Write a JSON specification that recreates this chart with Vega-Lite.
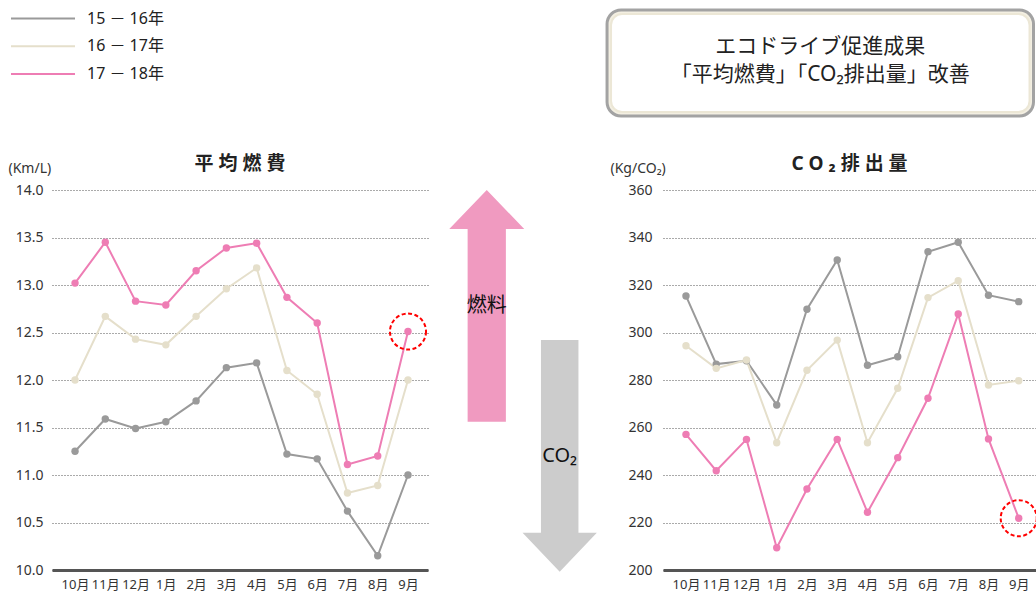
{
  "$schema": "https://vega.github.io/schema/vega-lite/v6.json",
  "padding": {"left": 8, "top": 8, "right": 0, "bottom": 0},
  "background": "white",
  "columns": 3,
  "align": "none",
  "bounds": "flush",
  "spacing": {"row": 74, "column": 20},
  "data": {"values": [
    {"month": "10月", "series": "15 － 16年", "fuel": 11.25, "co2": 315.4},
    {"month": "11月", "series": "15 － 16年", "fuel": 11.59, "co2": 286.7},
    {"month": "12月", "series": "15 － 16年", "fuel": 11.49, "co2": 288.1},
    {"month": "1月", "series": "15 － 16年", "fuel": 11.56, "co2": 269.5},
    {"month": "2月", "series": "15 － 16年", "fuel": 11.78, "co2": 309.8},
    {"month": "3月", "series": "15 － 16年", "fuel": 12.13, "co2": 330.5},
    {"month": "4月", "series": "15 － 16年", "fuel": 12.18, "co2": 286.2},
    {"month": "5月", "series": "15 － 16年", "fuel": 11.22, "co2": 289.8},
    {"month": "6月", "series": "15 － 16年", "fuel": 11.17, "co2": 334.0},
    {"month": "7月", "series": "15 － 16年", "fuel": 10.62, "co2": 338.0},
    {"month": "8月", "series": "15 － 16年", "fuel": 10.15, "co2": 315.7},
    {"month": "9月", "series": "15 － 16年", "fuel": 11.00, "co2": 313.0},
    {"month": "10月", "series": "16 － 17年", "fuel": 12.00, "co2": 294.4},
    {"month": "11月", "series": "16 － 17年", "fuel": 12.67, "co2": 284.9},
    {"month": "12月", "series": "16 － 17年", "fuel": 12.43, "co2": 288.4},
    {"month": "1月", "series": "16 － 17年", "fuel": 12.37, "co2": 253.6},
    {"month": "2月", "series": "16 － 17年", "fuel": 12.67, "co2": 284.1},
    {"month": "3月", "series": "16 － 17年", "fuel": 12.96, "co2": 296.8},
    {"month": "4月", "series": "16 － 17年", "fuel": 13.18, "co2": 253.6},
    {"month": "5月", "series": "16 － 17年", "fuel": 12.10, "co2": 276.5},
    {"month": "6月", "series": "16 － 17年", "fuel": 11.85, "co2": 314.7},
    {"month": "7月", "series": "16 － 17年", "fuel": 10.81, "co2": 321.8},
    {"month": "8月", "series": "16 － 17年", "fuel": 10.89, "co2": 277.9},
    {"month": "9月", "series": "16 － 17年", "fuel": 12.00, "co2": 279.7},
    {"month": "10月", "series": "17 － 18年", "fuel": 13.02, "co2": 257.1},
    {"month": "11月", "series": "17 － 18年", "fuel": 13.45, "co2": 241.8},
    {"month": "12月", "series": "17 － 18年", "fuel": 12.83, "co2": 255.0},
    {"month": "1月", "series": "17 － 18年", "fuel": 12.79, "co2": 209.4},
    {"month": "2月", "series": "17 － 18年", "fuel": 13.15, "co2": 234.1},
    {"month": "3月", "series": "17 － 18年", "fuel": 13.39, "co2": 255.0},
    {"month": "4月", "series": "17 － 18年", "fuel": 13.44, "co2": 224.3},
    {"month": "5月", "series": "17 － 18年", "fuel": 12.87, "co2": 247.3},
    {"month": "6月", "series": "17 － 18年", "fuel": 12.60, "co2": 272.3},
    {"month": "7月", "series": "17 － 18年", "fuel": 11.11, "co2": 307.8},
    {"month": "8月", "series": "17 － 18年", "fuel": 11.20, "co2": 255.2},
    {"month": "9月", "series": "17 － 18年", "fuel": 12.51, "co2": 221.8}
  ]},
  "concat": [
    {
      "width": 376, "height": 106,
      "data": {"values": [{}]},
      "mark": {"type": "text", "text": ""}
    },
    {
      "width": 140, "height": 106,
      "data": {"values": [{}]},
      "mark": {"type": "text", "text": ""}
    },
    {
      "width": 373, "height": 106,
      "data": {"values": [{}]},
      "layer": [
        {
          "mark": {"type": "rect", "cornerRadius": 14, "stroke": "#a3a3a3", "strokeWidth": 3, "fill": "#f3efe2"},
          "encoding": {
            "x": {"datum": -0.150, "type": "quantitative", "scale": {"domain": [0, 1]}, "axis": null},
            "x2": {"datum": 0.9933},
            "y": {"datum": 0, "type": "quantitative", "scale": {"domain": [0, 1]}, "axis": null},
            "y2": {"datum": 1}
          }
        },
        {
          "mark": {"type": "rect", "cornerRadius": 11, "stroke": "#ece7d6", "strokeWidth": 2, "fill": "#ffffff"},
          "encoding": {
            "x": {"datum": -0.1393, "type": "quantitative"},
            "x2": {"datum": 0.9826},
            "y": {"datum": 0.038, "type": "quantitative"},
            "y2": {"datum": 0.962}
          }
        },
        {
          "mark": {"type": "text", "text": ["エコドライブ促進成果", "「平均燃費」「CO₂排出量」改善"], "fontSize": 21, "lineHeight": 28, "dy": -16, "color": "#222222"},
          "encoding": {
            "x": {"datum": 0.4216, "type": "quantitative"},
            "y": {"datum": 0.5, "type": "quantitative"}
          }
        }
      ]
    },
    {
      "width": 376, "height": 380,
      "title": {"text": "平 均 燃 費", "fontSize": 19, "fontWeight": "bold", "color": "#222222", "offset": -32, "baseline": "bottom"},
      "encoding": {
        "x": {"field": "month", "type": "ordinal", "sort": ["10月","11月","12月","1月","2月","3月","4月","5月","6月","7月","8月","9月"],
              "scale": {"type": "point", "padding": 0.711, "align": 0.535},
              "axis": {"title": null, "labelAngle": 0, "labelFontSize": 13, "labelColor": "#333333", "labelPadding": 8, "ticks": false, "tickSize": 0, "domain": true, "domainColor": "#555555", "domainWidth": 3, "grid": false}},
        "y": {"field": "fuel", "type": "quantitative", "scale": {"domain": [10, 14]},
              "axis": {"values": [10, 10.5, 11, 11.5, 12, 12.5, 13, 13.5, 14], "format": ".1f", "title": "(Km/L)", "titleAngle": 0, "titleAlign": "left", "titleBaseline": "middle", "titleX": -44, "titleY": -22, "titleFontSize": 14, "titleFontWeight": "normal", "titleColor": "#333333", "labelPadding": 9, "labelFontSize": 14, "labelColor": "#333333", "domain": false, "ticks": false, "tickSize": 0, "grid": true, "gridDash": [1, 2], "gridColor": "#555555", "gridWidth": 1}}
      },
      "layer": [
        {
          "mark": {"type": "line", "strokeWidth": 2},
          "encoding": {
            "color": {"field": "series", "type": "nominal", "title": null,
                      "scale": {"domain": ["15 － 16年", "16 － 17年", "17 － 18年"], "range": ["#9a9a9a", "#e5dfcb", "#ee7db4"]},
                      "legend": {"orient": "none", "legendX": -17, "legendY": 0.5, "symbolType": "M-8,0L8,0", "symbolSize": 64, "symbolStrokeWidth": 2, "labelFontSize": 16, "labelOffset": 36, "rowPadding": 11.8, "padding": 0, "labelColor": "#222222"}}
          }
        },
        {
          "mark": {"type": "point", "filled": true, "size": 55, "opacity": 1, "strokeWidth": 0},
          "encoding": {
            "fill": {"field": "series", "type": "nominal",
                     "scale": {"domain": ["15 － 16年", "16 － 17年", "17 － 18年"], "range": ["#9a9a9a", "#e5dfcb", "#ee7db4"]},
                     "legend": null}
          }
        },
        {
          "transform": [{"filter": "datum.series === '17 － 18年' && datum.month === '9月'"}],
          "mark": {"type": "point", "filled": false, "size": 1300, "stroke": "#ff0000", "strokeWidth": 2, "strokeDash": [4, 2.5], "opacity": 1}
        }
      ]
    },
    {
      "width": 195, "height": 380,
      "data": {"values": [
        {"label": "燃料", "dir": "up"},
        {"label": "CO₂", "dir": "down"}
      ]},
      "encoding": {
        "x": {"field": "label", "type": "nominal", "sort": ["燃料", "CO₂"], "scale": {"type": "point", "padding": 0.8365, "align": 0.3175}, "axis": null},
        "y": {"field": "label", "type": "nominal", "sort": ["燃料", "CO₂"], "scale": {"type": "point", "padding": 0.7667, "align": 0.5037}, "axis": null}
      },
      "layer": [
        {
          "mark": {"type": "point", "filled": true, "opacity": 1, "size": 5625, "strokeWidth": 0},
          "encoding": {
            "shape": {"field": "dir", "type": "nominal",
                      "scale": {"domain": ["up", "down"], "range": ["M0,-3.09L1,-2.05L0.51,-2.05L0.51,3.09L-0.51,3.09L-0.51,-2.05L-1,-2.05Z", "M-0.5,-3.09L0.5,-3.09L0.5,2.05L0.99,2.05L0,3.09L-0.99,2.05L-0.5,2.05Z"]},
                      "legend": null},
            "fill": {"condition": {"test": "datum.dir === 'up'", "value": "#f09ac0"}, "value": "#cccccc"}
          }
        },
        {
          "mark": {"type": "text", "fontSize": 20, "color": "#111111"},
          "encoding": {"text": {"field": "label"}}
        }
      ]
    },
    {
      "width": 373, "height": 380,
      "title": {"text": "C O ₂ 排 出 量", "fontSize": 19, "fontWeight": "bold", "color": "#222222", "offset": -32, "baseline": "bottom"},
      "encoding": {
        "x": {"field": "month", "type": "ordinal", "sort": ["10月","11月","12月","1月","2月","3月","4月","5月","6月","7月","8月","9月"],
              "scale": {"type": "point", "padding": 0.665, "align": 0.571},
              "axis": {"title": null, "labelAngle": 0, "labelFontSize": 13, "labelColor": "#333333", "labelPadding": 8, "ticks": false, "tickSize": 0, "domain": true, "domainColor": "#555555", "domainWidth": 3, "grid": false}},
        "y": {"field": "co2", "type": "quantitative", "scale": {"domain": [200, 360]},
              "axis": {"values": [200, 220, 240, 260, 280, 300, 320, 340, 360], "format": "d", "title": "(Kg/CO₂)", "titleAngle": 0, "titleAlign": "left", "titleBaseline": "middle", "titleX": -53, "titleY": -22, "titleFontSize": 14, "titleFontWeight": "normal", "titleColor": "#333333", "labelPadding": 11, "labelFontSize": 14, "labelColor": "#333333", "domain": false, "ticks": false, "tickSize": 0, "grid": true, "gridDash": [1, 2], "gridColor": "#555555", "gridWidth": 1}}
      },
      "layer": [
        {
          "mark": {"type": "line", "strokeWidth": 2},
          "encoding": {
            "color": {"field": "series", "type": "nominal", "title": null,
                      "scale": {"domain": ["15 － 16年", "16 － 17年", "17 － 18年"], "range": ["#9a9a9a", "#e5dfcb", "#ee7db4"]},
                      "legend": {"orient": "none", "legendX": -17, "legendY": 0.5, "symbolType": "M-8,0L8,0", "symbolSize": 64, "symbolStrokeWidth": 2, "labelFontSize": 16, "labelOffset": 36, "rowPadding": 11.8, "padding": 0, "labelColor": "#222222"}}
          }
        },
        {
          "mark": {"type": "point", "filled": true, "size": 55, "opacity": 1, "strokeWidth": 0},
          "encoding": {
            "fill": {"field": "series", "type": "nominal",
                     "scale": {"domain": ["15 － 16年", "16 － 17年", "17 － 18年"], "range": ["#9a9a9a", "#e5dfcb", "#ee7db4"]},
                     "legend": null}
          }
        },
        {
          "transform": [{"filter": "datum.series === '17 － 18年' && datum.month === '9月'"}],
          "mark": {"type": "point", "filled": false, "size": 1300, "stroke": "#ff0000", "strokeWidth": 2, "strokeDash": [4, 2.5], "opacity": 1, "clip": true}
        }
      ]
    }
  ],
  "config": {
    "font": "'Noto Sans', 'Noto Sans CJK JP', sans-serif",
    "view": {"stroke": null},
    "title": {"font": "'Noto Sans', 'Noto Sans CJK JP', sans-serif"},
    "legend": {"labelFont": "'Noto Sans', 'Noto Sans CJK JP', sans-serif"}
  }
}
